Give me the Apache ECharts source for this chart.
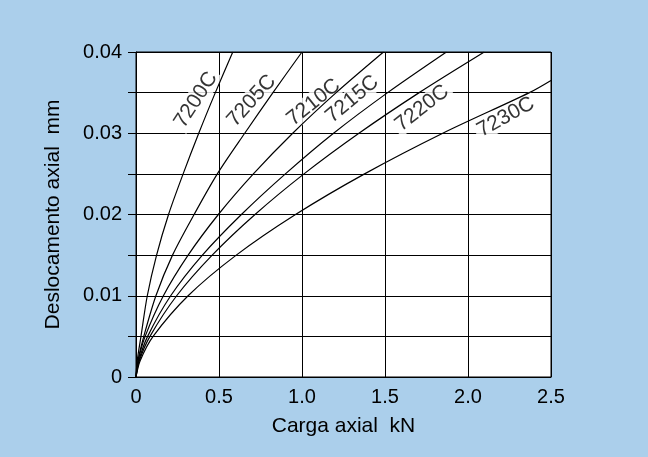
<!DOCTYPE html>
<html>
<head>
<meta charset="utf-8">
<script src="https://cdn.jsdelivr.net/npm/echarts@6/dist/echarts.min.js"></script>
<style>
html,body{margin:0;padding:0;background:#abcfeb;}
#chart{width:648px;height:457px;}
</style>
</head>
<body>
<div id="chart"></div>
<script>
// ---- data ----
const xTickLabels = ['0', '0.5', '1.0', '1.5', '2.0', '2.5'];
const yTickLabels = ['0', '', '0.01', '', '0.02', '', '0.03', '', '0.04'];
const seriesNames = ['7200C', '7205C', '7210C', '7215C', '7220C', '7230C'];

// axial displacement levels (mm) at which the load was read
const deflLevels = [0, 0.002, 0.005, 0.01, 0.015, 0.02, 0.025, 0.03, 0.035, 0.04];
const deflLevels7230 = [0, 0.002, 0.005, 0.01, 0.015, 0.02, 0.025, 0.03, 0.035, 0.0365];

// axial load (kN) for each curve at those displacement levels
const load7200 = [0, 0.0073, 0.030, 0.068, 0.124, 0.196, 0.284, 0.378, 0.478, 0.583];
const load7205 = [0, 0.0115, 0.047, 0.120, 0.220, 0.350, 0.490, 0.655, 0.825, 1.000];
const load7210 = [0, 0.0134, 0.055, 0.165, 0.314, 0.496, 0.707, 0.944, 1.206, 1.491];
const load7215 = [0, 0.0170, 0.070, 0.209, 0.400, 0.635, 0.900, 1.190, 1.516, 1.870];
const load7220 = [0, 0.0200, 0.084, 0.245, 0.459, 0.717, 1.012, 1.343, 1.706, 2.098];
const load7230 = [0, 0.0250, 0.103, 0.314, 0.604, 0.961, 1.377, 1.848, 2.370, 2.500];

const loads = [load7200, load7205, load7210, load7215, load7220, load7230];
const defls = [deflLevels, deflLevels, deflLevels, deflLevels, deflLevels, deflLevels7230];

// label anchors (data coords) and rotation for curve names
const labelPlacement = {
  '7200C': {at: [0.361, 0.0341], rot: 57},
  '7205C': {at: [0.696, 0.0340], rot: 48},
  '7210C': {at: [1.070, 0.0338], rot: 39},
  '7215C': {at: [1.303, 0.0342], rot: 40},
  '7220C': {at: [1.723, 0.0331], rot: 38},
  '7230C': {at: [2.228, 0.0320], rot: 29}
};

const FONT = 'Liberation Sans, Arial, Helvetica, sans-serif';

const lineSeries = seriesNames.map((name, i) => ({
  name: name,
  type: 'line',
  data: loads[i].map((x, j) => [x, defls[i][j]]),
  smooth: 0.3,
  showSymbol: false,
  symbol: 'none',
  lineStyle: {color: '#000', width: 1.2},
  z: 4,
  silent: true
}));

const labelSeries = seriesNames.map((name) => ({
  name: name + '-label',
  type: 'scatter',
  symbolSize: 0,
  data: [labelPlacement[name].at],
  z: 3,
  silent: true,
  label: {
    show: true,
    position: 'inside',
    formatter: name,
    rotate: labelPlacement[name].rot,
    color: '#000',
    fontFamily: FONT,
    fontSize: 21,
    backgroundColor: '#fff',
    padding: [0, 3],
    align: 'center',
    verticalAlign: 'middle'
  }
}));

const chart = echarts.init(document.getElementById('chart'), null, {renderer: 'canvas'});
chart.setOption({
  backgroundColor: '#abcfeb',
  animation: false,
  grid: {
    left: 136, right: 97, top: 52, bottom: 80,
    show: true, backgroundColor: '#fff', borderColor: '#000', borderWidth: 1
  },
  xAxis: {
    type: 'value',
    min: 0, max: 2.5, interval: 0.5,
    name: 'Carga axial  kN',
    nameLocation: 'middle',
    nameGap: 39,
    nameTextStyle: {color: '#000', fontFamily: FONT, fontSize: 21},
    axisLine: {show: true, lineStyle: {color: '#000', width: 1}},
    axisTick: {show: false},
    axisLabel: {
      color: '#000', fontFamily: FONT, fontSize: 20, margin: 10,
      formatter: (v) => xTickLabels[Math.round(v / 0.5)]
    },
    splitLine: {show: true, lineStyle: {color: '#000', width: 1}}
  },
  yAxis: {
    type: 'value',
    min: 0, max: 0.04, interval: 0.005,
    name: 'Deslocamento axial  mm',
    nameLocation: 'middle',
    nameGap: 72,
    nameTextStyle: {color: '#000', fontFamily: FONT, fontSize: 21},
    axisLine: {show: true, lineStyle: {color: '#000', width: 1}},
    axisTick: {show: true, inside: false, length: 8, lineStyle: {color: '#000', width: 1}},
    axisLabel: {
      color: '#000', fontFamily: FONT, fontSize: 20, margin: 14,
      formatter: (v) => yTickLabels[Math.round(v / 0.005)]
    },
    splitLine: {show: true, lineStyle: {color: '#000', width: 1}}
  },
  series: lineSeries.concat(labelSeries)
});
</script>
</body>
</html>
